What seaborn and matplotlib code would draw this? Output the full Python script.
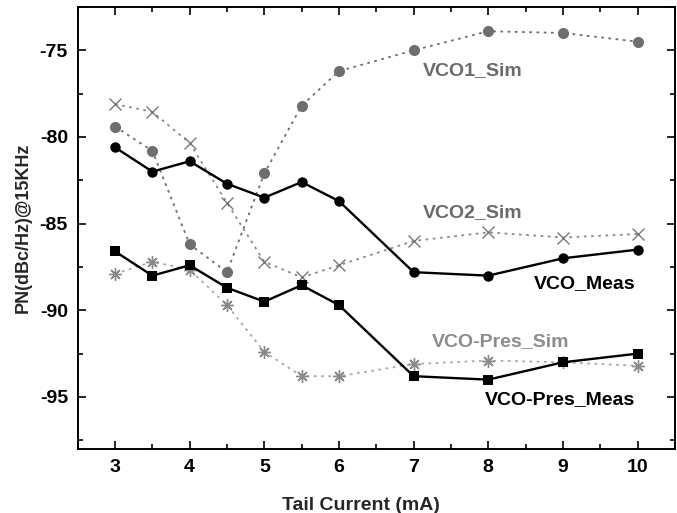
import matplotlib
matplotlib.use("Agg")
import matplotlib.pyplot as plt
import seaborn as sns
import pandas as pd
from matplotlib.ticker import MultipleLocator

current = [3, 3.5, 4, 4.5, 5, 5.5, 6, 7, 8, 9, 10]
vco_meas = [-80.6, -82.0, -81.4, -82.7, -83.5, -82.6, -83.7, -87.8, -88.0, -87.0, -86.5]
vco1_sim = [-79.4, -80.8, -86.2, -87.8, -82.1, -78.2, -76.2, -75.0, -73.9, -74.0, -74.5]
vco2_sim = [-78.1, -78.55, -80.35, -83.8, -87.2, -88.1, -87.4, -86.0, -85.5, -85.8, -85.6]
pres_meas = [-86.6, -88.0, -87.4, -88.7, -89.5, -88.55, -89.7, -93.8, -94.0, -93.0, -92.5]
pres_sim = [-87.9, -87.2, -87.65, -89.7, -92.4, -93.8, -93.8, -93.1, -92.9, -93.0, -93.2]

sns.set_style("ticks")
plt.rcParams['font.family'] = ['Liberation Sans', 'DejaVu Sans']
plt.rcParams['font.weight'] = 'bold'
plt.rcParams['axes.unicode_minus'] = False

fig = plt.figure(figsize=(6.77, 5.13), dpi=100)
ax = fig.add_axes([0.1148, 0.1248, 0.882, 0.8616])

sns.lineplot(x=current, y=vco1_sim, ax=ax, color="#6e6e6e", linestyle=(0, (1.5, 2.5)),
             linewidth=1.3, marker="o", markersize=8, markeredgewidth=0, markerfacecolor="#6e6e6e")
sns.lineplot(x=current, y=vco2_sim, ax=ax, color="#8a8a8a", linestyle=(0, (1.5, 2.5)),
             linewidth=1.3, marker="x", markersize=8.5, markeredgewidth=1.0, markeredgecolor="#7a7a7a")
sns.lineplot(x=current, y=pres_sim, ax=ax, color="#a8a8a8", linestyle=(0, (1.5, 2.5)),
             linewidth=1.3, marker=(8, 2, 0), markersize=9, markeredgewidth=1.0, markeredgecolor="#8a8a8a")
sns.lineplot(x=current, y=vco_meas, ax=ax, color="black", linestyle="-",
             linewidth=1.7, marker="o", markersize=7.5, markeredgewidth=0, markerfacecolor="black")
sns.lineplot(x=current, y=pres_meas, ax=ax, color="black", linestyle="-",
             linewidth=1.7, marker="s", markersize=6.5, markeredgewidth=0, markerfacecolor="black")

ax.set_xlim(2.5, 10.5)
ax.set_ylim(-98, -72.5)
ax.xaxis.set_major_locator(MultipleLocator(1))
ax.xaxis.set_minor_locator(MultipleLocator(0.5))
ax.yaxis.set_major_locator(MultipleLocator(5))
ax.yaxis.set_minor_locator(MultipleLocator(2.5))
ax.set_xticks([3, 4, 5, 6, 7, 8, 9, 10])
ax.set_yticks([-95, -90, -85, -80, -75])
ax.tick_params(which="both", direction="in", top=True, right=True, width=1.2, colors="black",
               labelsize=14)
ax.tick_params(which="major", length=6, pad=7)
ax.tick_params(which="minor", length=3.5)
for lab in ax.get_xticklabels() + ax.get_yticklabels():
    lab.set_fontweight("bold")
for s in ax.spines.values():
    s.set_linewidth(1.4)
    s.set_color("black")

ax.set_xlabel("Tail Current (mA)", fontsize=14, fontweight="bold")
ax.xaxis.set_label_coords(0.4735, -0.108)
ax.set_ylabel("PN(dBc/Hz)@15KHz", fontsize=13, fontweight="bold", labelpad=6)

ax.text(7.13, -76.15, "VCO1_Sim", color="#6a6a6a", fontsize=14, fontweight="bold", va="center", ha="left")
ax.text(7.13, -84.35, "VCO2_Sim", color="#6a6a6a", fontsize=14, fontweight="bold", va="center", ha="left")
ax.text(9.97, -88.46, "VCO_Meas", color="black", fontsize=14, fontweight="bold", va="center", ha="right")
ax.text(7.25, -91.8, "VCO-Pres_Sim", color="#8c8c8c", fontsize=14, fontweight="bold", va="center", ha="left")
ax.text(9.97, -95.15, "VCO-Pres_Meas", color="black", fontsize=14, fontweight="bold", va="center", ha="right")

fig.savefig("out.png", dpi=100)
